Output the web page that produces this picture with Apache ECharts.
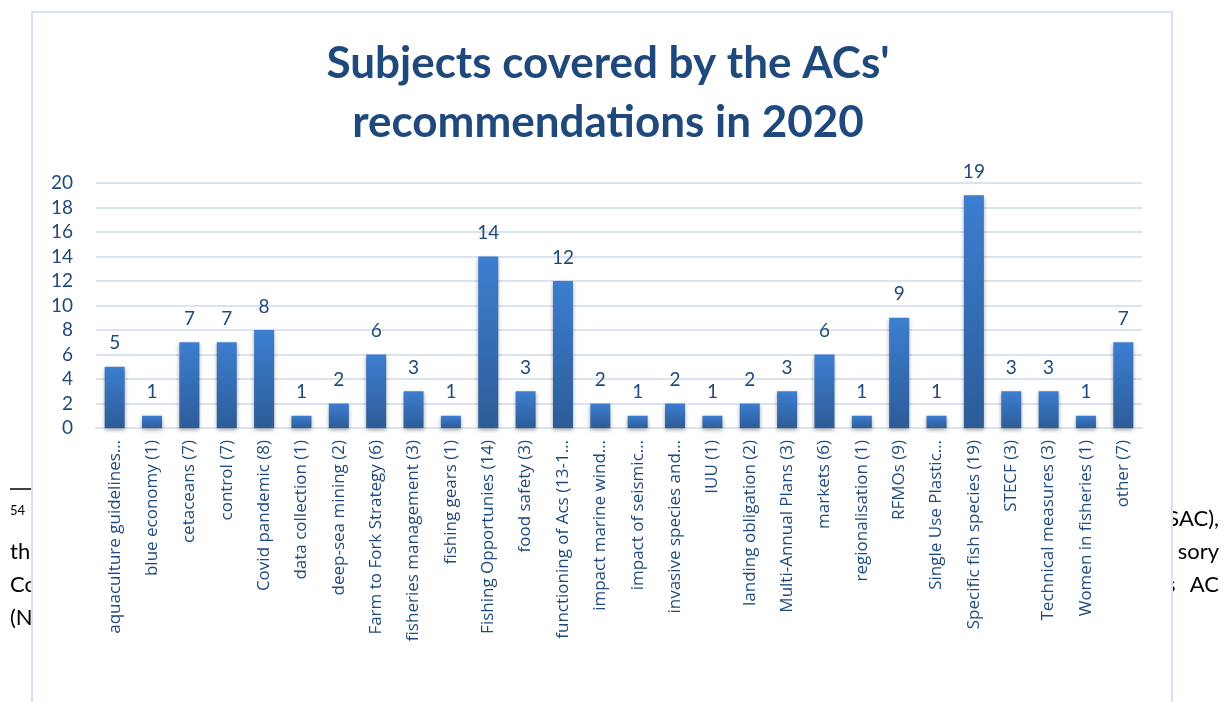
<!DOCTYPE html>
<html>
<head>
<meta charset="utf-8">
<title>Subjects covered by the ACs' recommendations in 2020</title>
<script src="https://cdn.jsdelivr.net/npm/echarts@6/dist/echarts.min.js"></script>
<style>
  html, body { margin: 0; padding: 0; background: #fff; }
  #main { width: 1231px; height: 702px; }
</style>
</head>
<body>
<div id="main"></div>
<script>
// categories as printed under the bars (long ones are cut off in the original)
var subjects = [
  'aquaculture guidelines…', 'blue economy (1)', 'cetaceans (7)', 'control (7)',
  'Covid pandemic (8)', 'data collection (1)', 'deep-sea mining (2)',
  'Farm to Fork Strategy (6)', 'fisheries management (3)', 'fishing gears (1)',
  'Fishing Opportunies (14)', 'food safety (3)', 'functioning of Acs (13-1…',
  'impact marine wind…', 'impact of seismic…', 'invasive species and…',
  'IUU (1)', 'landing obligation (2)', 'Multi-Annual Plans (3)', 'markets (6)',
  'regionalisation (1)', 'RFMOs (9)', 'Single Use Plastic…',
  'Specific fish species (19)', 'STECF (3)', 'Technical measures (3)',
  'Women in fisheries (1)', 'other (7)'
]
var counts = [5, 1, 7, 7, 8, 1, 2, 6, 3, 1, 14, 3, 12, 2, 1, 2, 1, 2, 3, 6, 1, 9, 1, 19, 3, 3, 1, 7]

// bits of the document page that show around the chart box
var pageTextLeft = ['th', 'Co', '(N']
var pageTextRight = ['SAC),', 'sory', 'AC']

var navy = '#1f497d'
var font = 'Lato, "Open Sans", sans-serif'

var chart = echarts.init(document.getElementById('main'))

var pageBits = [
  { type: 'line', z: -2, shape: { x1: 10, y1: 489, x2: 32, y2: 489 }, style: { stroke: '#000', lineWidth: 1.5 } },
  { type: 'text', z: -2, left: 10, top: 504, style: { text: '54', font: '13px ' + font, fill: '#000' } }
]
pageTextLeft.forEach(function (t, i) {
  pageBits.push({ type: 'text', z: -2, left: 10, top: 541 + i * 33, style: { text: t, font: '22px ' + font, fill: '#000' } })
})
pageTextRight.forEach(function (t, i) {
  pageBits.push({ type: 'text', z: -2, right: 12, top: 508 + i * 33, style: { text: t, font: '22px ' + font, fill: '#000', align: 'right' } })
})
pageBits.push({ type: 'text', z: -2, left: 1166, top: 574, style: { text: 's', font: '22px ' + font, fill: '#000' } })
// white chart box on top of the page text
pageBits.push({
  type: 'rect', z: -1,
  shape: { x: 32, y: 12, width: 1140, height: 720 },
  style: { fill: '#fff', stroke: '#d6e2f3', lineWidth: 2 }
})

chart.setOption({
  backgroundColor: '#fff',
  textStyle: { fontFamily: font },
  title: {
    text: "Subjects covered by the ACs'\nrecommendations in 2020",
    left: 603,
    textAlign: 'center',
    top: 29,
    textStyle: { color: navy, fontSize: 44, fontWeight: 'bold', lineHeight: 59, fontFamily: font }
  },
  graphic: pageBits,
  grid: { left: 96, right: 89, top: 183, bottom: 274 },
  xAxis: {
    type: 'category',
    data: subjects,
    axisLine: { lineStyle: { color: '#d9e3f1', width: 2 } },
    axisTick: { show: false },
    axisLabel: { rotate: 90, interval: 0, margin: 12, color: navy, fontSize: 17, fontFamily: '"Open Sans", sans-serif' }
  },
  yAxis: {
    type: 'value',
    min: 0,
    max: 20,
    interval: 2,
    axisLine: { show: false },
    axisTick: { show: false },
    axisLabel: { color: navy, fontSize: 19, margin: 23, fontFamily: font },
    splitLine: { lineStyle: { color: '#d9e3f1', width: 2 } }
  },
  series: [{
    type: 'bar',
    data: counts,
    barWidth: 20,
    itemStyle: {
      color: new echarts.graphic.LinearGradient(0, 0, 0, 1, [
        { offset: 0, color: '#3d7ed0' },
        { offset: 1, color: '#2c5c98' }
      ]),
      shadowColor: 'rgba(0,0,0,0.35)',
      shadowBlur: 4,
      shadowOffsetY: 2
    },
    label: { show: true, position: 'top', distance: 14, color: navy, fontSize: 19, fontFamily: font }
  }]
})
</script>
</body>
</html>
